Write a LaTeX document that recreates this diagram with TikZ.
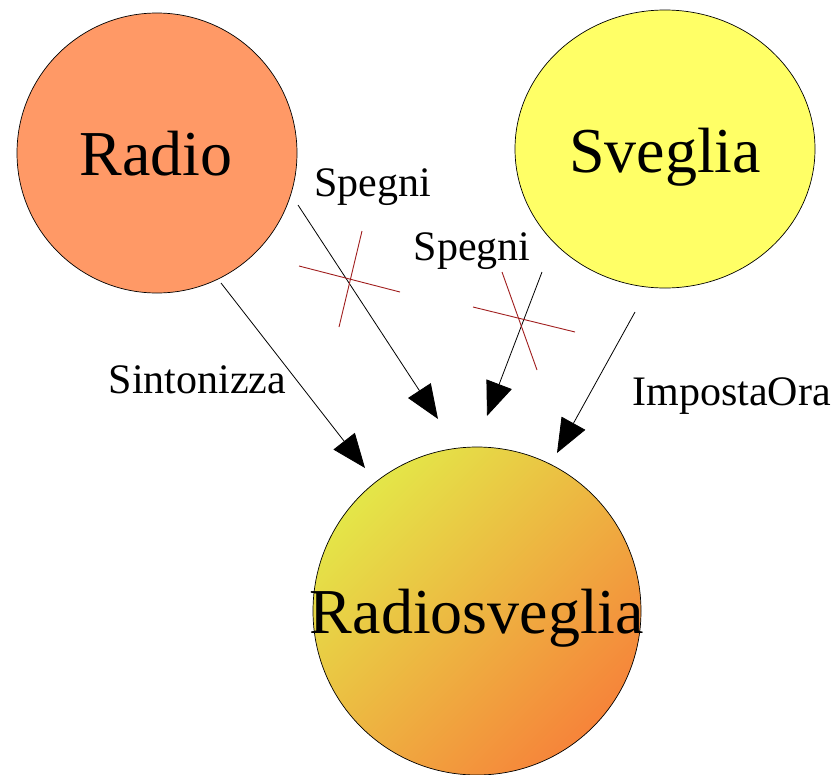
\documentclass[tikz,border=0pt]{standalone}
\usepackage{fontspec}
\setmainfont{Liberation Serif}
\usetikzlibrary{arrows.meta}
\definecolor{radiocol}{RGB}{255,153,102}
\definecolor{svegliacol}{RGB}{255,255,102}
\definecolor{gradA}{RGB}{228,230,72}
\definecolor{gradB}{RGB}{246,132,58}
\definecolor{crosscol}{RGB}{160,30,30}
\tikzset{
  bigtext/.style={font=\fontsize{64}{70}\selectfont, anchor=base, inner sep=0pt},
  lbl/.style={font=\fontsize{42}{48}\selectfont, anchor=base, inner sep=0pt},
  conn/.style={draw=black, line width=0.8pt, -{Triangle[length=34pt,width=27pt]}},
  crossline/.style={draw=crosscol, line width=0.9pt},
  outline/.style={draw=black, line width=0.7pt}
}
\begin{document}
\begin{tikzpicture}[x=1pt,y=-1pt]
\useasboundingbox (0,0) rectangle (835,774);
% circles
\filldraw[outline, fill=radiocol] (157,153) ellipse (140 and 140);
\filldraw[outline, fill=svegliacol] (665,149) ellipse (150 and 139);
\shade[top color=gradA, bottom color=gradB, shading angle=45] (477,611) ellipse (164 and 164);
\draw[outline] (477,611) ellipse (164 and 164);
% texts
\node[bigtext] (radio) at (156,175) {Radio};
\node[bigtext] (sveglia) at (665,172) {Sveglia};
\node[bigtext] (rsv) at (477,633) {Radiosveglia};
% connector ends
\coordinate (s1) at (221,283); \coordinate (e1) at (365,468);
\coordinate (s2) at (298,205); \coordinate (e2) at (438,419);
\coordinate (s3) at (542,272); \coordinate (e3) at (487,416);
\coordinate (s4) at (635,312); \coordinate (e4) at (557,453);
\draw[conn] (s1) -- (e1);
\draw[conn] (s2) -- (e2);
\draw[conn] (s3) -- (e3);
\draw[conn] (s4) -- (e4);
% crosses
\coordinate (c1a) at (299,266); \coordinate (c1b) at (400,292);
\coordinate (c1c) at (362,231); \coordinate (c1d) at (339,327);
\draw[crossline] (c1a) -- (c1b);
\draw[crossline] (c1c) -- (c1d);
\coordinate (c2a) at (473,307); \coordinate (c2b) at (575,332);
\coordinate (c2c) at (502,272); \coordinate (c2d) at (537,370);
\draw[crossline] (c2a) -- (c2b);
\draw[crossline] (c2c) -- (c2d);
% labels
\node[lbl] (l1) at (372.5,196) {Spegni};
\node[lbl] (l2) at (472,260) {Spegni};
\node[lbl] (l3) at (197.5,393) {Sintonizza};
\node[lbl] (l4) at (731.5,405) {ImpostaOra};
\end{tikzpicture}
\end{document}
